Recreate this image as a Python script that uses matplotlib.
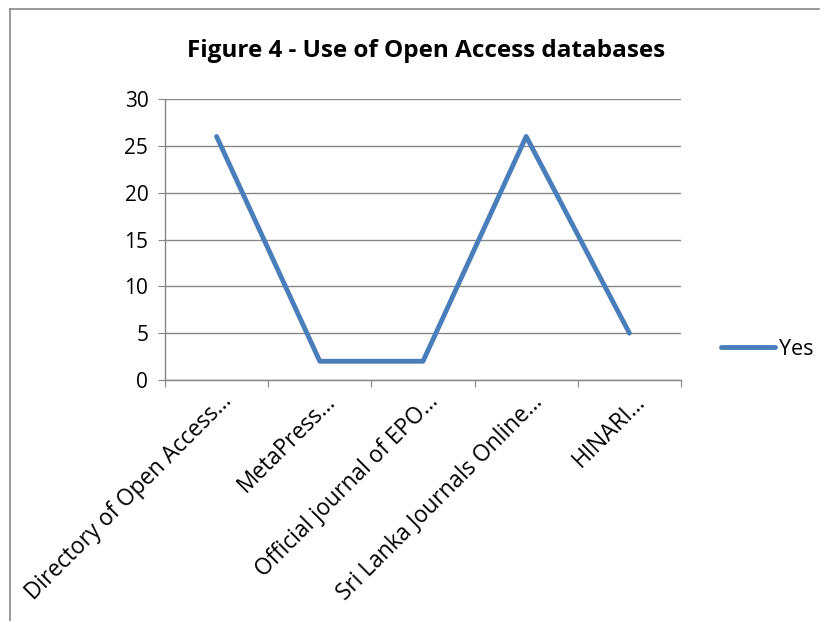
import matplotlib
matplotlib.use("Agg")
import matplotlib.pyplot as plt
from matplotlib.transforms import ScaledTranslation
from matplotlib.lines import Line2D

categories = ["Directory of Open Access…", "MetaPress…", "Official journal of EPO…",
              "Sri Lanka Journals Online…", "HINARI…"]
yes_values = [26, 2, 2, 26, 5]
series_name = "Yes"
title = "Figure 4 - Use of Open Access databases"

plt.rcParams['font.family'] = ['Open Sans', 'DejaVu Sans']
W, H = 829, 621
fig = plt.figure(figsize=(W / 100, H / 100), dpi=100)
ax = fig.add_axes([165 / W, 1 - 380 / H, (681 - 165) / W, (380 - 99) / H])

grid_c = "#868686"
line_c = "#4A7EBB"
x = list(range(len(categories)))
ax.plot(x, yes_values, color=line_c, lw=3.5, solid_capstyle="round",
        solid_joinstyle="round", label=series_name)

ax.set_xlim(-0.5, len(categories) - 0.5)
ax.set_ylim(0, 30)
ax.set_yticks(range(0, 31, 5))
ax.yaxis.grid(True, color=grid_c, lw=1)
ax.set_axisbelow(True)
for s in ["top", "right"]:
    ax.spines[s].set_visible(False)
for s in ["left", "bottom"]:
    ax.spines[s].set_color(grid_c)
    ax.spines[s].set_linewidth(1)

ax.set_xticks([i - 0.5 for i in range(len(categories) + 1)])
ax.set_xticklabels([])
ax.set_xticks(x, minor=True)
ax.set_xticklabels(categories, minor=True, rotation=45, ha="right", va="center",
                   rotation_mode="anchor", fontsize=16.3)
ax.tick_params(axis="x", which="major", direction="out", length=5, color=grid_c)
ax.tick_params(axis="x", which="minor", length=0, pad=0)
ax.tick_params(axis="y", direction="out", length=5, color=grid_c, labelsize=15, pad=7)
off = ScaledTranslation(12 / 100, -18 / 100, fig.dpi_scale_trans)
for lab in ax.get_xticklabels(minor=True):
    lab.set_transform(lab.get_transform() + off)

fig.text(426 / W, 1 - 51 / H, title, ha="center", va="center",
         fontsize=17.5, fontweight="bold")

leg = ax.legend(loc="center left", bbox_to_anchor=(721 / W, 1 - 349 / H),
                bbox_transform=fig.transFigure, frameon=False, fontsize=15.5,
                handlelength=2.5, handletextpad=0.2, borderpad=0, borderaxespad=0)

fig.add_artist(Line2D([10.5 / W, 10.5 / W], [0, 1 - 9 / H], color="#898989", lw=1.2,
                      transform=fig.transFigure))
fig.add_artist(Line2D([10 / W, 819 / W], [1 - 9 / H, 1 - 9 / H], color="#898989", lw=1.2,
                      transform=fig.transFigure))

fig.savefig("out.png", dpi=100)
